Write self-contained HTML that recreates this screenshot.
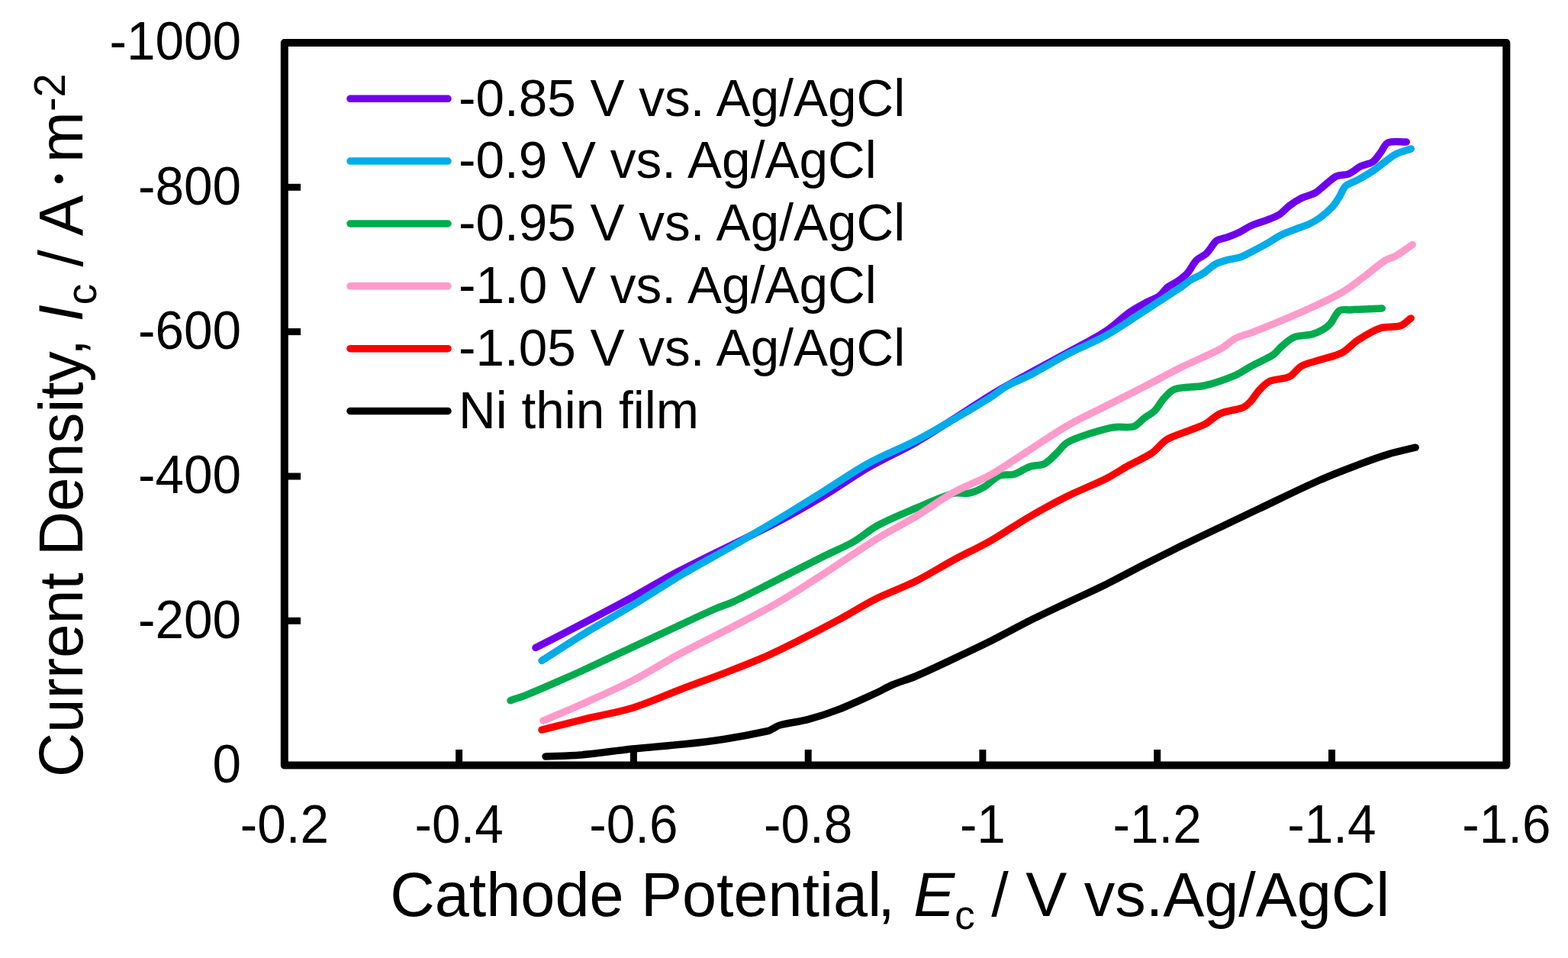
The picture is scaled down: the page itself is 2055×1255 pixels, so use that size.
<!DOCTYPE html>
<html><head><meta charset="utf-8"><title>Cathode potential vs current density</title>
<style>
html,body{margin:0;padding:0;background:#fff;}
svg{display:block;}
text{font-family:"Liberation Sans",Arial,sans-serif;fill:#000;}
</style></head><body>
<svg width="2055" height="1255" viewBox="0 0 2055 1255">
<rect x="0" y="0" width="2055" height="1255" fill="#fff"/>
<path d="M702.0 848.6 C724.6 837.0 747.2 825.5 769.7 813.7 C789.7 803.3 809.6 792.8 829.4 782.0 C849.5 771.1 868.9 759.0 889.2 748.5 C932.3 726.2 976.4 706.0 1019.5 683.6 C1039.8 673.1 1059.7 661.6 1079.3 649.8 C1099.5 637.7 1118.6 623.8 1139.0 612.0 C1158.8 600.5 1179.9 591.3 1199.8 580.0 C1216.8 570.3 1233.1 559.5 1249.6 549.0 C1266.3 538.5 1282.5 527.2 1299.4 517.0 C1315.7 507.2 1332.5 498.2 1349.2 489.0 C1365.7 479.9 1382.5 471.1 1399.0 462.0 C1416.0 452.6 1433.6 444.0 1449.8 433.4 C1460.5 426.5 1469.4 416.9 1479.7 409.5 C1486.0 405.0 1492.8 401.3 1499.6 397.6 C1506.1 394.0 1513.5 391.8 1519.5 387.6 C1523.6 384.7 1526.1 379.7 1530.0 376.5 C1533.8 373.4 1538.7 371.6 1542.7 368.8 C1547.2 365.7 1551.9 362.6 1555.5 358.6 C1560.4 353.3 1563.2 346.0 1568.2 340.8 C1571.7 337.2 1577.4 335.7 1581.0 332.2 C1585.9 327.4 1588.9 320.7 1593.7 315.9 C1595.3 314.3 1597.9 313.9 1600.1 313.1 C1603.3 312.0 1606.8 311.4 1610.0 310.2 C1615.1 308.3 1620.1 306.3 1625.0 303.9 C1630.1 301.4 1634.8 297.8 1640.0 295.5 C1646.4 292.7 1653.3 291.0 1659.9 288.5 C1665.3 286.4 1671.0 284.7 1675.9 281.6 C1681.0 278.4 1684.9 273.2 1689.8 269.6 C1694.8 265.9 1700.1 262.4 1705.7 259.6 C1711.4 256.7 1718.2 255.9 1723.7 252.7 C1729.5 249.3 1734.2 243.9 1739.6 239.7 C1743.5 236.6 1747.1 232.7 1751.6 230.8 C1756.4 228.7 1762.6 229.8 1767.5 227.8 C1773.2 225.5 1777.8 220.6 1783.4 217.8 C1788.5 215.3 1794.9 214.9 1799.4 211.8 C1803.5 209.0 1806.1 203.9 1809.3 199.9 C1812.7 195.6 1814.7 188.8 1819.3 186.9 C1826.0 184.1 1835.2 186.2 1843.2 185.9" fill="none" stroke="#6f00ee" stroke-width="9.5" stroke-linejoin="round" stroke-linecap="round"/>
<path d="M710.0 865.5 C729.9 852.9 749.6 839.9 769.7 827.6 C789.4 815.6 809.7 804.7 829.4 792.8 C851.4 779.5 872.9 765.1 895.0 752.0 C916.3 739.4 938.3 727.8 959.8 715.5 C979.8 704.0 999.7 692.5 1019.5 680.6 C1039.6 668.6 1059.4 656.1 1079.3 643.8 C1099.2 631.4 1118.5 617.8 1139.0 606.5 C1158.6 595.7 1179.8 587.8 1199.8 577.5 C1216.7 568.8 1233.1 559.1 1249.6 549.6 C1266.3 539.9 1283.0 530.0 1299.4 519.7 C1306.2 515.4 1312.3 509.7 1319.3 505.8 C1328.9 500.4 1339.5 496.9 1349.2 491.8 C1366.0 483.0 1382.1 472.8 1399.0 464.0 C1415.7 455.3 1433.4 448.6 1449.8 439.4 C1467.0 429.8 1483.0 418.2 1499.6 407.5 C1516.1 396.8 1532.7 386.1 1549.1 375.2 C1553.5 372.3 1557.4 368.7 1561.9 366.0 C1565.9 363.5 1570.6 362.1 1574.6 359.6 C1579.1 356.8 1583.1 353.2 1587.4 350.0 C1589.5 348.5 1591.4 346.6 1593.7 345.6 C1598.9 343.3 1604.5 341.7 1610.0 340.2 C1615.0 338.8 1620.4 338.7 1625.3 337.0 C1630.7 335.1 1635.8 332.0 1641.0 329.4 C1647.4 326.2 1653.7 322.9 1659.9 319.4 C1666.6 315.6 1672.9 310.9 1679.8 307.5 C1686.2 304.3 1693.1 302.1 1699.8 299.5 C1705.1 297.4 1710.6 295.9 1715.7 293.5 C1720.5 291.2 1725.3 288.6 1729.6 285.5 C1735.3 281.3 1740.8 276.7 1745.6 271.6 C1749.5 267.4 1752.4 262.4 1755.5 257.6 C1758.4 253.1 1759.7 247.2 1763.5 243.7 C1767.7 239.9 1774.2 238.6 1779.4 235.7 C1786.2 231.9 1793.0 228.1 1799.4 223.8 C1804.9 220.1 1809.9 215.7 1815.3 211.8 C1819.9 208.4 1824.2 204.4 1829.2 201.9 C1835.5 198.8 1842.5 197.2 1849.2 194.9" fill="none" stroke="#00acea" stroke-width="9.5" stroke-linejoin="round" stroke-linecap="round"/>
<path d="M669.0 917.7 C676.0 915.2 683.1 913.1 690.0 910.3 C703.4 905.0 716.6 899.2 729.8 893.4 C743.2 887.6 756.5 881.6 769.7 875.5 C789.7 866.3 809.5 856.9 829.4 847.6 C849.3 838.3 869.2 828.9 889.2 819.7 C906.0 811.9 922.8 803.9 939.8 796.5 C946.4 793.6 953.5 791.9 960.0 788.8 C979.3 779.8 998.3 769.8 1017.4 760.2 C1038.3 749.7 1059.1 739.0 1080.0 728.6 C1093.0 722.1 1106.5 716.7 1119.0 709.5 C1129.8 703.3 1139.0 694.4 1150.0 688.5 C1166.0 679.9 1183.0 673.1 1199.8 666.0 C1216.2 659.0 1232.7 651.0 1249.6 646.2 C1255.9 644.4 1263.1 647.5 1269.5 646.2 C1276.4 644.8 1283.3 641.7 1289.4 638.2 C1296.6 634.1 1302.0 626.4 1309.4 623.3 C1315.3 620.8 1323.0 623.2 1329.3 621.3 C1336.3 619.2 1342.3 613.8 1349.2 611.4 C1355.5 609.2 1363.3 610.3 1369.1 607.4 C1375.2 604.3 1379.8 598.2 1385.0 593.4 C1389.8 588.9 1393.4 582.7 1399.0 579.5 C1408.4 574.1 1419.4 571.0 1429.9 567.6 C1439.7 564.4 1449.7 561.3 1459.8 559.7 C1468.3 558.3 1477.8 561.1 1485.7 558.7 C1491.1 557.1 1494.9 551.2 1499.6 547.7 C1504.1 544.3 1509.5 541.8 1513.5 537.8 C1518.2 533.1 1521.0 526.7 1525.5 521.8 C1529.6 517.4 1533.8 511.7 1539.4 509.9 C1551.7 506.1 1566.3 508.0 1579.3 505.0 C1592.9 501.9 1606.2 497.0 1619.1 491.6 C1626.5 488.5 1632.9 483.4 1640.0 479.6 C1646.5 476.1 1653.3 473.1 1659.9 469.6 C1663.3 467.8 1666.9 466.1 1669.9 463.7 C1673.5 460.8 1676.2 456.7 1679.8 453.7 C1684.9 449.4 1689.8 444.2 1695.8 441.8 C1703.1 438.9 1711.9 439.9 1719.7 437.8 C1724.5 436.5 1729.3 434.3 1733.6 431.8 C1737.3 429.7 1740.8 427.0 1743.6 423.8 C1748.1 418.7 1750.4 410.5 1755.5 406.9 C1759.0 404.5 1764.8 406.2 1769.5 405.9 C1776.1 405.5 1782.8 405.2 1789.4 404.9 C1796.7 404.6 1804.0 404.2 1811.3 403.9" fill="none" stroke="#00ab4e" stroke-width="9.5" stroke-linejoin="round" stroke-linecap="round"/>
<path d="M711.9 944.2 C731.2 935.9 750.6 927.9 769.7 919.3 C789.7 910.3 809.9 901.5 829.4 891.4 C849.7 880.9 869.0 868.3 889.2 857.5 C912.5 845.0 936.5 833.5 960.0 821.3 C979.2 811.3 998.7 801.6 1017.4 790.7 C1038.7 778.3 1059.3 764.8 1080.0 751.5 C1103.2 736.6 1125.6 720.5 1149.0 706.0 C1165.5 695.7 1183.1 687.1 1199.8 677.0 C1216.7 666.8 1232.4 654.8 1249.6 645.2 C1265.6 636.2 1283.4 630.3 1299.4 621.3 C1316.6 611.7 1332.6 600.0 1349.2 589.4 C1365.8 578.8 1381.9 567.4 1399.0 557.6 C1415.5 548.2 1432.9 540.4 1449.8 531.8 C1466.4 523.4 1483.0 515.0 1499.6 506.5 C1516.2 497.9 1532.6 488.9 1549.4 480.6 C1565.8 472.5 1583.1 465.9 1599.2 457.3 C1606.3 453.5 1612.0 447.1 1619.1 443.4 C1625.6 440.0 1633.1 438.5 1640.0 435.8 C1653.3 430.6 1666.6 425.3 1679.8 419.8 C1693.2 414.2 1706.6 408.6 1719.7 402.5 C1733.1 396.2 1746.8 390.1 1759.5 382.6 C1770.0 376.4 1779.5 368.5 1789.4 361.2 C1798.1 354.7 1806.2 347.2 1815.3 341.3 C1819.5 338.6 1824.9 337.8 1829.2 335.3 C1836.8 330.9 1843.9 325.4 1851.2 320.4" fill="none" stroke="#ff9bcb" stroke-width="9.5" stroke-linejoin="round" stroke-linecap="round"/>
<path d="M710.0 956.1 C729.9 951.1 749.8 946.0 769.7 941.2 C789.6 936.4 809.9 933.4 829.4 927.3 C851.7 920.3 873.1 910.3 895.0 902.0 C913.2 895.1 931.6 888.6 949.8 881.6 C966.5 875.2 983.2 868.9 999.6 861.7 C1016.4 854.3 1032.9 846.0 1049.4 837.8 C1066.1 829.4 1082.7 820.8 1099.2 811.9 C1115.9 802.9 1132.0 792.5 1149.0 784.0 C1165.5 775.7 1183.3 769.9 1199.8 761.6 C1216.8 753.1 1232.9 742.7 1249.6 733.7 C1266.1 724.8 1283.2 717.1 1299.4 707.8 C1316.4 698.2 1332.3 686.8 1349.2 677.0 C1365.5 667.5 1382.1 658.4 1399.0 650.0 C1415.6 641.7 1433.2 635.3 1449.8 627.0 C1460.1 621.8 1469.6 615.1 1479.7 609.5 C1489.6 604.0 1500.3 599.8 1509.6 593.5 C1516.9 588.5 1522.0 580.1 1529.5 575.6 C1538.6 570.2 1549.4 567.7 1559.4 563.7 C1566.0 561.0 1573.1 559.1 1579.3 555.7 C1586.3 551.8 1591.9 545.0 1599.2 541.8 C1608.5 537.7 1619.7 537.5 1629.1 533.8 C1632.9 532.3 1636.1 529.0 1639.0 526.0 C1643.1 521.6 1645.9 515.9 1650.0 511.5 C1654.2 507.1 1658.5 502.0 1663.9 499.5 C1671.7 496.0 1682.0 497.2 1689.8 493.5 C1696.0 490.6 1699.7 482.9 1705.7 479.6 C1712.9 475.6 1721.6 474.3 1729.6 471.6 C1739.6 468.3 1750.3 466.5 1759.5 461.7 C1766.9 457.8 1772.3 450.3 1779.4 445.7 C1788.9 439.6 1798.8 433.4 1809.3 429.8 C1817.4 427.1 1827.2 429.4 1835.2 426.8 C1840.5 425.1 1844.5 420.2 1849.2 416.9" fill="none" stroke="#ff0000" stroke-width="9.5" stroke-linejoin="round" stroke-linecap="round"/>
<path d="M715.0 990.9 C730.3 990.3 745.6 990.3 760.8 989.0 C783.7 987.0 806.5 983.4 829.4 981.0 C851.2 978.7 873.2 977.3 895.0 975.0 C913.3 973.1 931.6 971.0 949.8 968.2 C969.0 965.2 988.1 961.6 1007.0 957.5 C1009.2 957.0 1011.0 955.5 1013.0 954.5 C1016.0 953.0 1018.8 950.8 1022.0 950.0 C1034.2 946.8 1047.1 945.7 1059.4 942.4 C1072.9 938.8 1086.2 934.5 1099.2 929.4 C1116.1 922.8 1132.5 915.0 1149.0 907.5 C1156.1 904.2 1162.8 900.0 1170.0 897.0 C1179.7 892.9 1190.1 890.1 1199.8 886.0 C1216.6 878.8 1233.1 870.9 1249.6 863.1 C1266.3 855.3 1282.9 847.4 1299.4 839.2 C1316.1 830.8 1332.5 821.7 1349.2 813.3 C1365.7 805.1 1382.4 797.3 1399.0 789.4 C1415.9 781.3 1433.0 773.7 1449.8 765.4 C1466.6 757.1 1482.9 748.0 1499.6 739.5 C1516.1 731.1 1532.7 722.8 1549.4 714.6 C1565.9 706.5 1582.6 698.6 1599.2 690.7 C1615.8 682.8 1632.4 674.9 1649.0 667.0 C1675.8 654.3 1702.5 641.0 1729.6 629.0 C1745.9 621.7 1762.7 615.4 1779.4 609.1 C1792.6 604.1 1805.8 599.2 1819.3 595.1 C1831.1 591.5 1843.2 589.2 1855.1 586.2" fill="none" stroke="#000000" stroke-width="9.5" stroke-linejoin="round" stroke-linecap="round"/>
<rect x="372.8" y="56.0" width="1601.5" height="946.6" fill="none" stroke="#000" stroke-width="10" stroke-linejoin="round"/>
<line x1="372.8" y1="813.3" x2="394" y2="813.3" stroke="#000" stroke-width="9"/>
<line x1="372.8" y1="624.0" x2="394" y2="624.0" stroke="#000" stroke-width="9"/>
<line x1="372.8" y1="434.6" x2="394" y2="434.6" stroke="#000" stroke-width="9"/>
<line x1="372.8" y1="245.3" x2="394" y2="245.3" stroke="#000" stroke-width="9"/>
<line x1="601.6" y1="1002.6" x2="601.6" y2="982" stroke="#000" stroke-width="9"/>
<line x1="830.4" y1="1002.6" x2="830.4" y2="982" stroke="#000" stroke-width="9"/>
<line x1="1059.2" y1="1002.6" x2="1059.2" y2="982" stroke="#000" stroke-width="9"/>
<line x1="1287.9" y1="1002.6" x2="1287.9" y2="982" stroke="#000" stroke-width="9"/>
<line x1="1516.7" y1="1002.6" x2="1516.7" y2="982" stroke="#000" stroke-width="9"/>
<line x1="1745.5" y1="1002.6" x2="1745.5" y2="982" stroke="#000" stroke-width="9"/>
<text transform="translate(316,1025.0) scale(1,1.045)" font-size="67.5" text-anchor="end">0</text>
<text transform="translate(316,835.7) scale(1,1.045)" font-size="67.5" text-anchor="end">-200</text>
<text transform="translate(316,646.4) scale(1,1.045)" font-size="67.5" text-anchor="end">-400</text>
<text transform="translate(316,457.0) scale(1,1.045)" font-size="67.5" text-anchor="end">-600</text>
<text transform="translate(316,267.7) scale(1,1.045)" font-size="67.5" text-anchor="end">-800</text>
<text transform="translate(316,78.4) scale(1,1.045)" font-size="67.5" text-anchor="end">-1000</text>
<text transform="translate(372.8,1104) scale(1,1.045)" font-size="67.5" text-anchor="middle">-0.2</text>
<text transform="translate(601.6,1104) scale(1,1.045)" font-size="67.5" text-anchor="middle">-0.4</text>
<text transform="translate(830.4,1104) scale(1,1.045)" font-size="67.5" text-anchor="middle">-0.6</text>
<text transform="translate(1059.2,1104) scale(1,1.045)" font-size="67.5" text-anchor="middle">-0.8</text>
<text transform="translate(1287.9,1104) scale(1,1.045)" font-size="67.5" text-anchor="middle">-1</text>
<text transform="translate(1516.7,1104) scale(1,1.045)" font-size="67.5" text-anchor="middle">-1.2</text>
<text transform="translate(1745.5,1104) scale(1,1.045)" font-size="67.5" text-anchor="middle">-1.4</text>
<text transform="translate(1974.3,1104) scale(1,1.045)" font-size="67.5" text-anchor="middle">-1.6</text>
<line x1="459" y1="129.3" x2="587" y2="129.3" stroke="#6f00ee" stroke-width="9.5" stroke-linecap="round"/>
<text transform="translate(601,151.6) scale(1,1.015)" font-size="67.5">-0.85 V vs. Ag/AgCl</text>
<line x1="459" y1="211.1" x2="587" y2="211.1" stroke="#00acea" stroke-width="9.5" stroke-linecap="round"/>
<text transform="translate(601,233.4) scale(1,1.015)" font-size="67.5">-0.9 V vs. Ag/AgCl</text>
<line x1="459" y1="293.0" x2="587" y2="293.0" stroke="#00ab4e" stroke-width="9.5" stroke-linecap="round"/>
<text transform="translate(601,315.3) scale(1,1.015)" font-size="67.5">-0.95 V vs. Ag/AgCl</text>
<line x1="459" y1="374.8" x2="587" y2="374.8" stroke="#ff9bcb" stroke-width="9.5" stroke-linecap="round"/>
<text transform="translate(601,397.1) scale(1,1.015)" font-size="67.5">-1.0 V vs. Ag/AgCl</text>
<line x1="459" y1="456.7" x2="587" y2="456.7" stroke="#ff0000" stroke-width="9.5" stroke-linecap="round"/>
<text transform="translate(601,479.0) scale(1,1.015)" font-size="67.5">-1.05 V vs. Ag/AgCl</text>
<line x1="459" y1="538.5" x2="587" y2="538.5" stroke="#000000" stroke-width="9.5" stroke-linecap="round"/>
<text transform="translate(601,560.8) scale(1,1.015)" font-size="67.5">Ni thin film</text>
<text transform="translate(511.3,1200) scale(1,1.01)" font-size="81">Cathode Potential<tspan dx="-5">, </tspan><tspan font-style="italic" dx="2">E</tspan><tspan font-size="53" dy="17">c</tspan><tspan dy="-17" dx="-1"> / V vs.Ag/AgCl</tspan></text>
<text transform="translate(108,1018) rotate(-90) scale(1,1.01)" font-size="80.3">Current Density, <tspan font-style="italic">I</tspan><tspan font-size="55" dy="18">c</tspan><tspan dy="-18"> / A</tspan><tspan font-size="42.4" dx="14" dy="-16.5">&#8226;</tspan><tspan dx="14" dy="16.5">m</tspan><tspan font-size="56" dy="-22.5">-2</tspan></text>
</svg>
</body></html>
